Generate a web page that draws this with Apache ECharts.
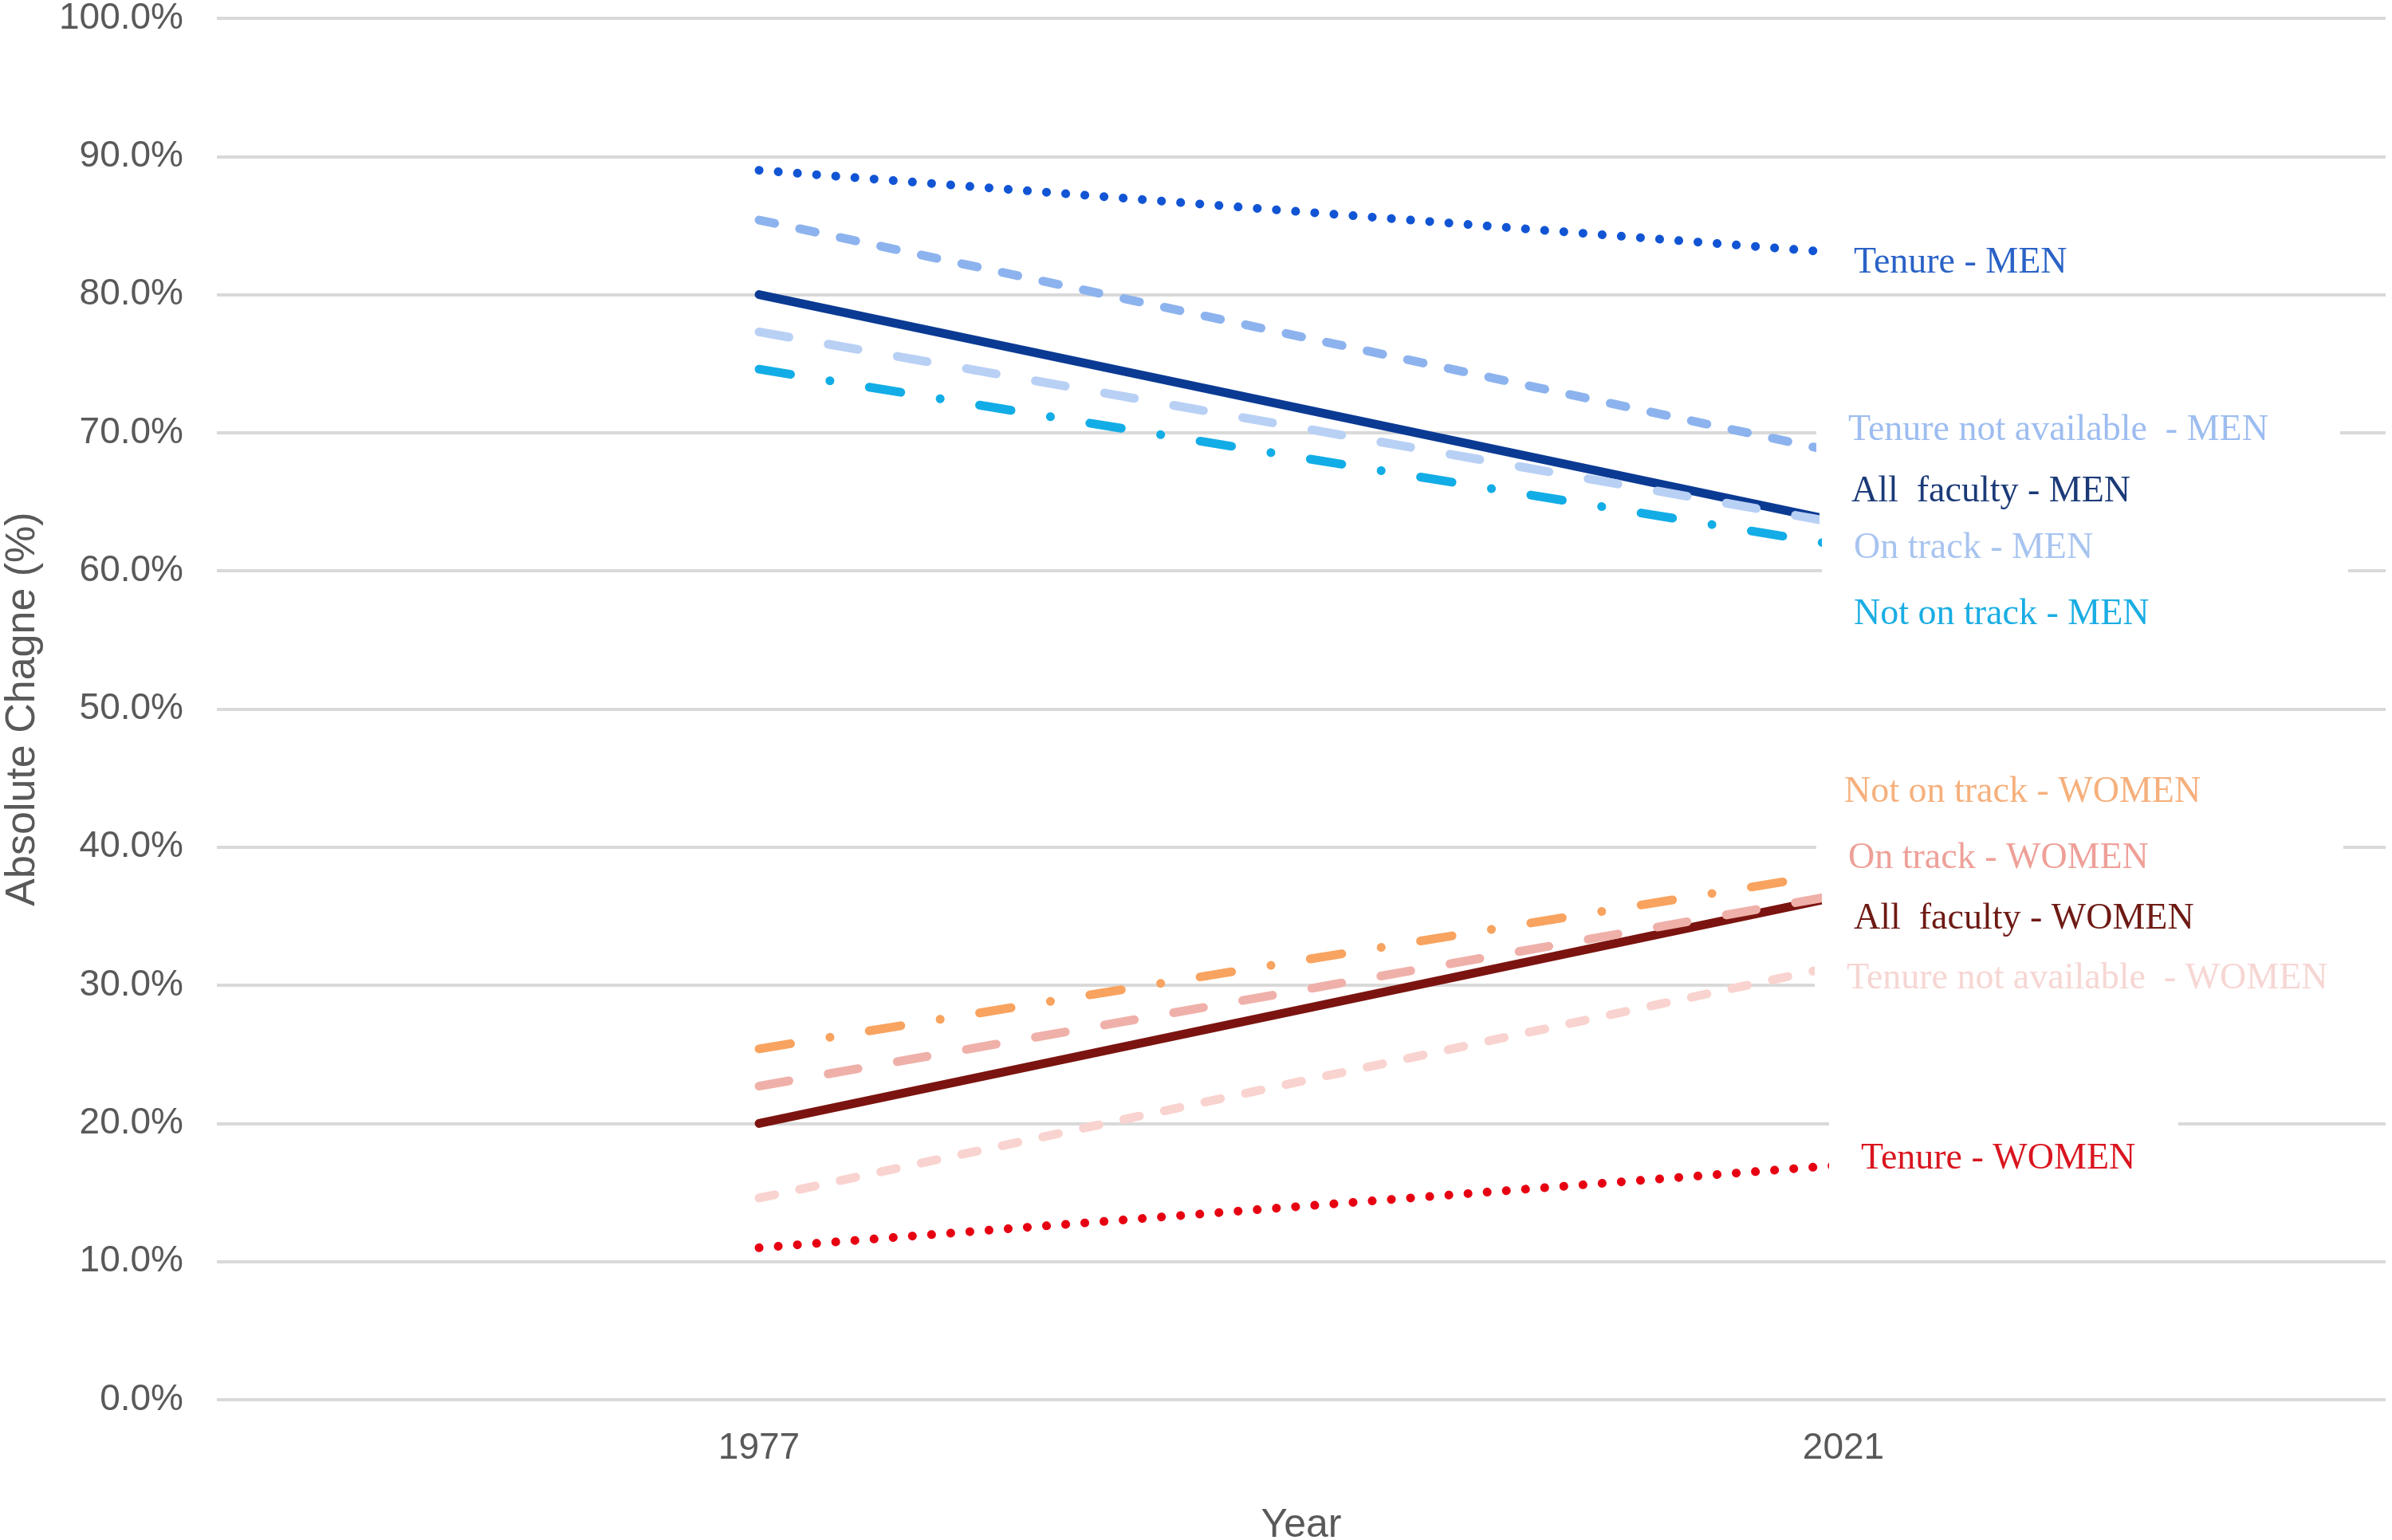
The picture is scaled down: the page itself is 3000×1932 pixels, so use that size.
<!DOCTYPE html>
<html>
<head>
<meta charset="utf-8">
<script src="https://cdn.jsdelivr.net/npm/echarts@6/dist/echarts.min.js"></script>
<style>
html,body{margin:0;padding:0;background:#ffffff;}
#chart{width:3000px;height:1932px;}
</style>
</head>
<body>
<div id="chart"></div>
<script>
// ---- data ----
const years = ['1977', '2021'];
const yTickValues = [0, 10, 20, 30, 40, 50, 60, 70, 80, 90, 100];

const allFacultyMen    = [80.0, 63.5];
const tenureNAMen      = [85.4, 68.5];
const tenureMen        = [89.0, 83.0];
const onTrackMen       = [77.3, 63.4];
const notOnTrackMen    = [74.6, 61.8];

const allFacultyWomen  = [20.0, 36.5];
const tenureNAWomen    = [14.6, 31.5];
const tenureWomen      = [11.0, 17.0];
const onTrackWomen     = [22.7, 36.6];
const notOnTrackWomen  = [25.4, 38.2];

const seriesNames = [
  'All  faculty - MEN', 'Tenure not available  - MEN', 'Tenure - MEN', 'On track - MEN', 'Not on track - MEN',
  'All  faculty - WOMEN', 'Tenure not available  - WOMEN', 'Tenure - WOMEN', 'On track - WOMEN', 'Not on track - WOMEN'
];
const seriesData = [
  allFacultyMen, tenureNAMen, tenureMen, onTrackMen, notOnTrackMen,
  allFacultyWomen, tenureNAWomen, tenureWomen, onTrackWomen, notOnTrackWomen
];

// ---- styles (kept apart from data) ----
const DOT = [0.1, 24];
const DASH_SHORT = [20, 32];
const DASH_LONG = [38, 50];
const DASH_DOT = [40, 50, 0.1, 50];
const seriesStyles = [
  {color:'#0b3a93', text:'#1b3a78', dash:'solid',    w:11, dx:-30, dy:-45, box:560, pt:13, pb:26},
  {color:'#8db3ee', text:'#9dbdf0', dash:DASH_SHORT, w:11, dx:-34, dy:-29, box:657, pt:13, pb:13},
  {color:'#1155d4', text:'#2a62c6', dash:DOT,        w:11, dx:-27, dy:12,  box:360, pt:13, pb:13},
  {color:'#b9d0f5', text:'#a8c4f0', dash:DASH_LONG,  w:11, dx:-27, dy:31,  box:660, pt:13, pb:13},
  {color:'#12ade6', text:'#19ade3', dash:DASH_DOT,   w:11, dx:-27, dy:86,  box:460, pt:13, pb:13},

  {color:'#7b1410', text:'#6e1a14', dash:'solid',    w:11, dx:-27, dy:31,  box:560, pt:16, pb:13},
  {color:'#f9d3cf', text:'#f6d6d3', dash:DASH_SHORT, w:11, dx:-36, dy:18,  box:740, pt:13, pb:13},
  {color:'#e60012', text:'#d9151f', dash:DOT,        w:11, dx:-18, dy:-7,  box:438, pt:30, pb:30},
  {color:'#efb0a9', text:'#eea098', dash:DASH_LONG,  w:11, dx:-34, dy:-45, box:661, pt:13, pb:13},
  {color:'#f8a35f', text:'#f6b07c', dash:DASH_DOT,   w:11, dx:-39, dy:-100,box:560, pt:13, pb:13}
];

const series = seriesData.map((d, i) => {
  const s = seriesStyles[i];
  return {
    name: seriesNames[i],
    type: 'line',
    data: d,
    symbol: 'none',
    silent: true,
    lineStyle: { color: s.color, width: s.w, type: s.dash, cap: 'round', join: 'round' },
    itemStyle: { color: s.color },
    endLabel: {
      show: true,
      formatter: () => seriesNames[i],
      distance: 0,
      offset: [s.dx, s.dy - (s.pt - s.pb) / 2],
      color: s.text,
      fontFamily: 'Liberation Serif',
      fontSize: 46,
      lineHeight: 50,
      backgroundColor: '#ffffff',
      padding: [s.pt, 40, s.pb, 40],
      width: s.box - 80,
      align: 'left',
      verticalAlign: 'middle'
    },
    z: 2
  };
});

const chart = echarts.init(document.getElementById('chart'), null, { renderer: 'canvas' });
chart.setOption({
  animation: false,
  backgroundColor: '#ffffff',
  grid: { left: 272, right: 8, top: 23, bottom: 176, containLabel: false, outerBoundsMode: 'none' },
  xAxis: {
    type: 'category',
    data: years,
    boundaryGap: true,
    name: 'Year',
    nameLocation: 'middle',
    nameGap: 133,
    nameTextStyle: { fontFamily: 'Liberation Sans', fontSize: 50, color: '#595959' },
    axisLine: { show: false },
    axisTick: { show: false },
    axisLabel: { fontFamily: 'Liberation Sans', fontSize: 46, color: '#595959', margin: 38 },
    splitLine: { show: false }
  },
  yAxis: {
    type: 'value',
    min: yTickValues[0],
    max: yTickValues[yTickValues.length - 1],
    interval: 10,
    name: 'Absolute Chagne (%)',
    nameLocation: 'middle',
    nameGap: 217,
    nameRotate: 90,
    nameTextStyle: { fontFamily: 'Liberation Sans', fontSize: 52, color: '#595959' },
    axisLine: { show: false },
    axisTick: { show: false },
    axisLabel: {
      fontFamily: 'Liberation Sans', fontSize: 46, color: '#595959', margin: 42,
      formatter: v => v.toFixed(1) + '%'
    },
    splitLine: { show: true, lineStyle: { color: '#d9d9d9', width: 4 } }
  },
  series: series
});
</script>
</body>
</html>
